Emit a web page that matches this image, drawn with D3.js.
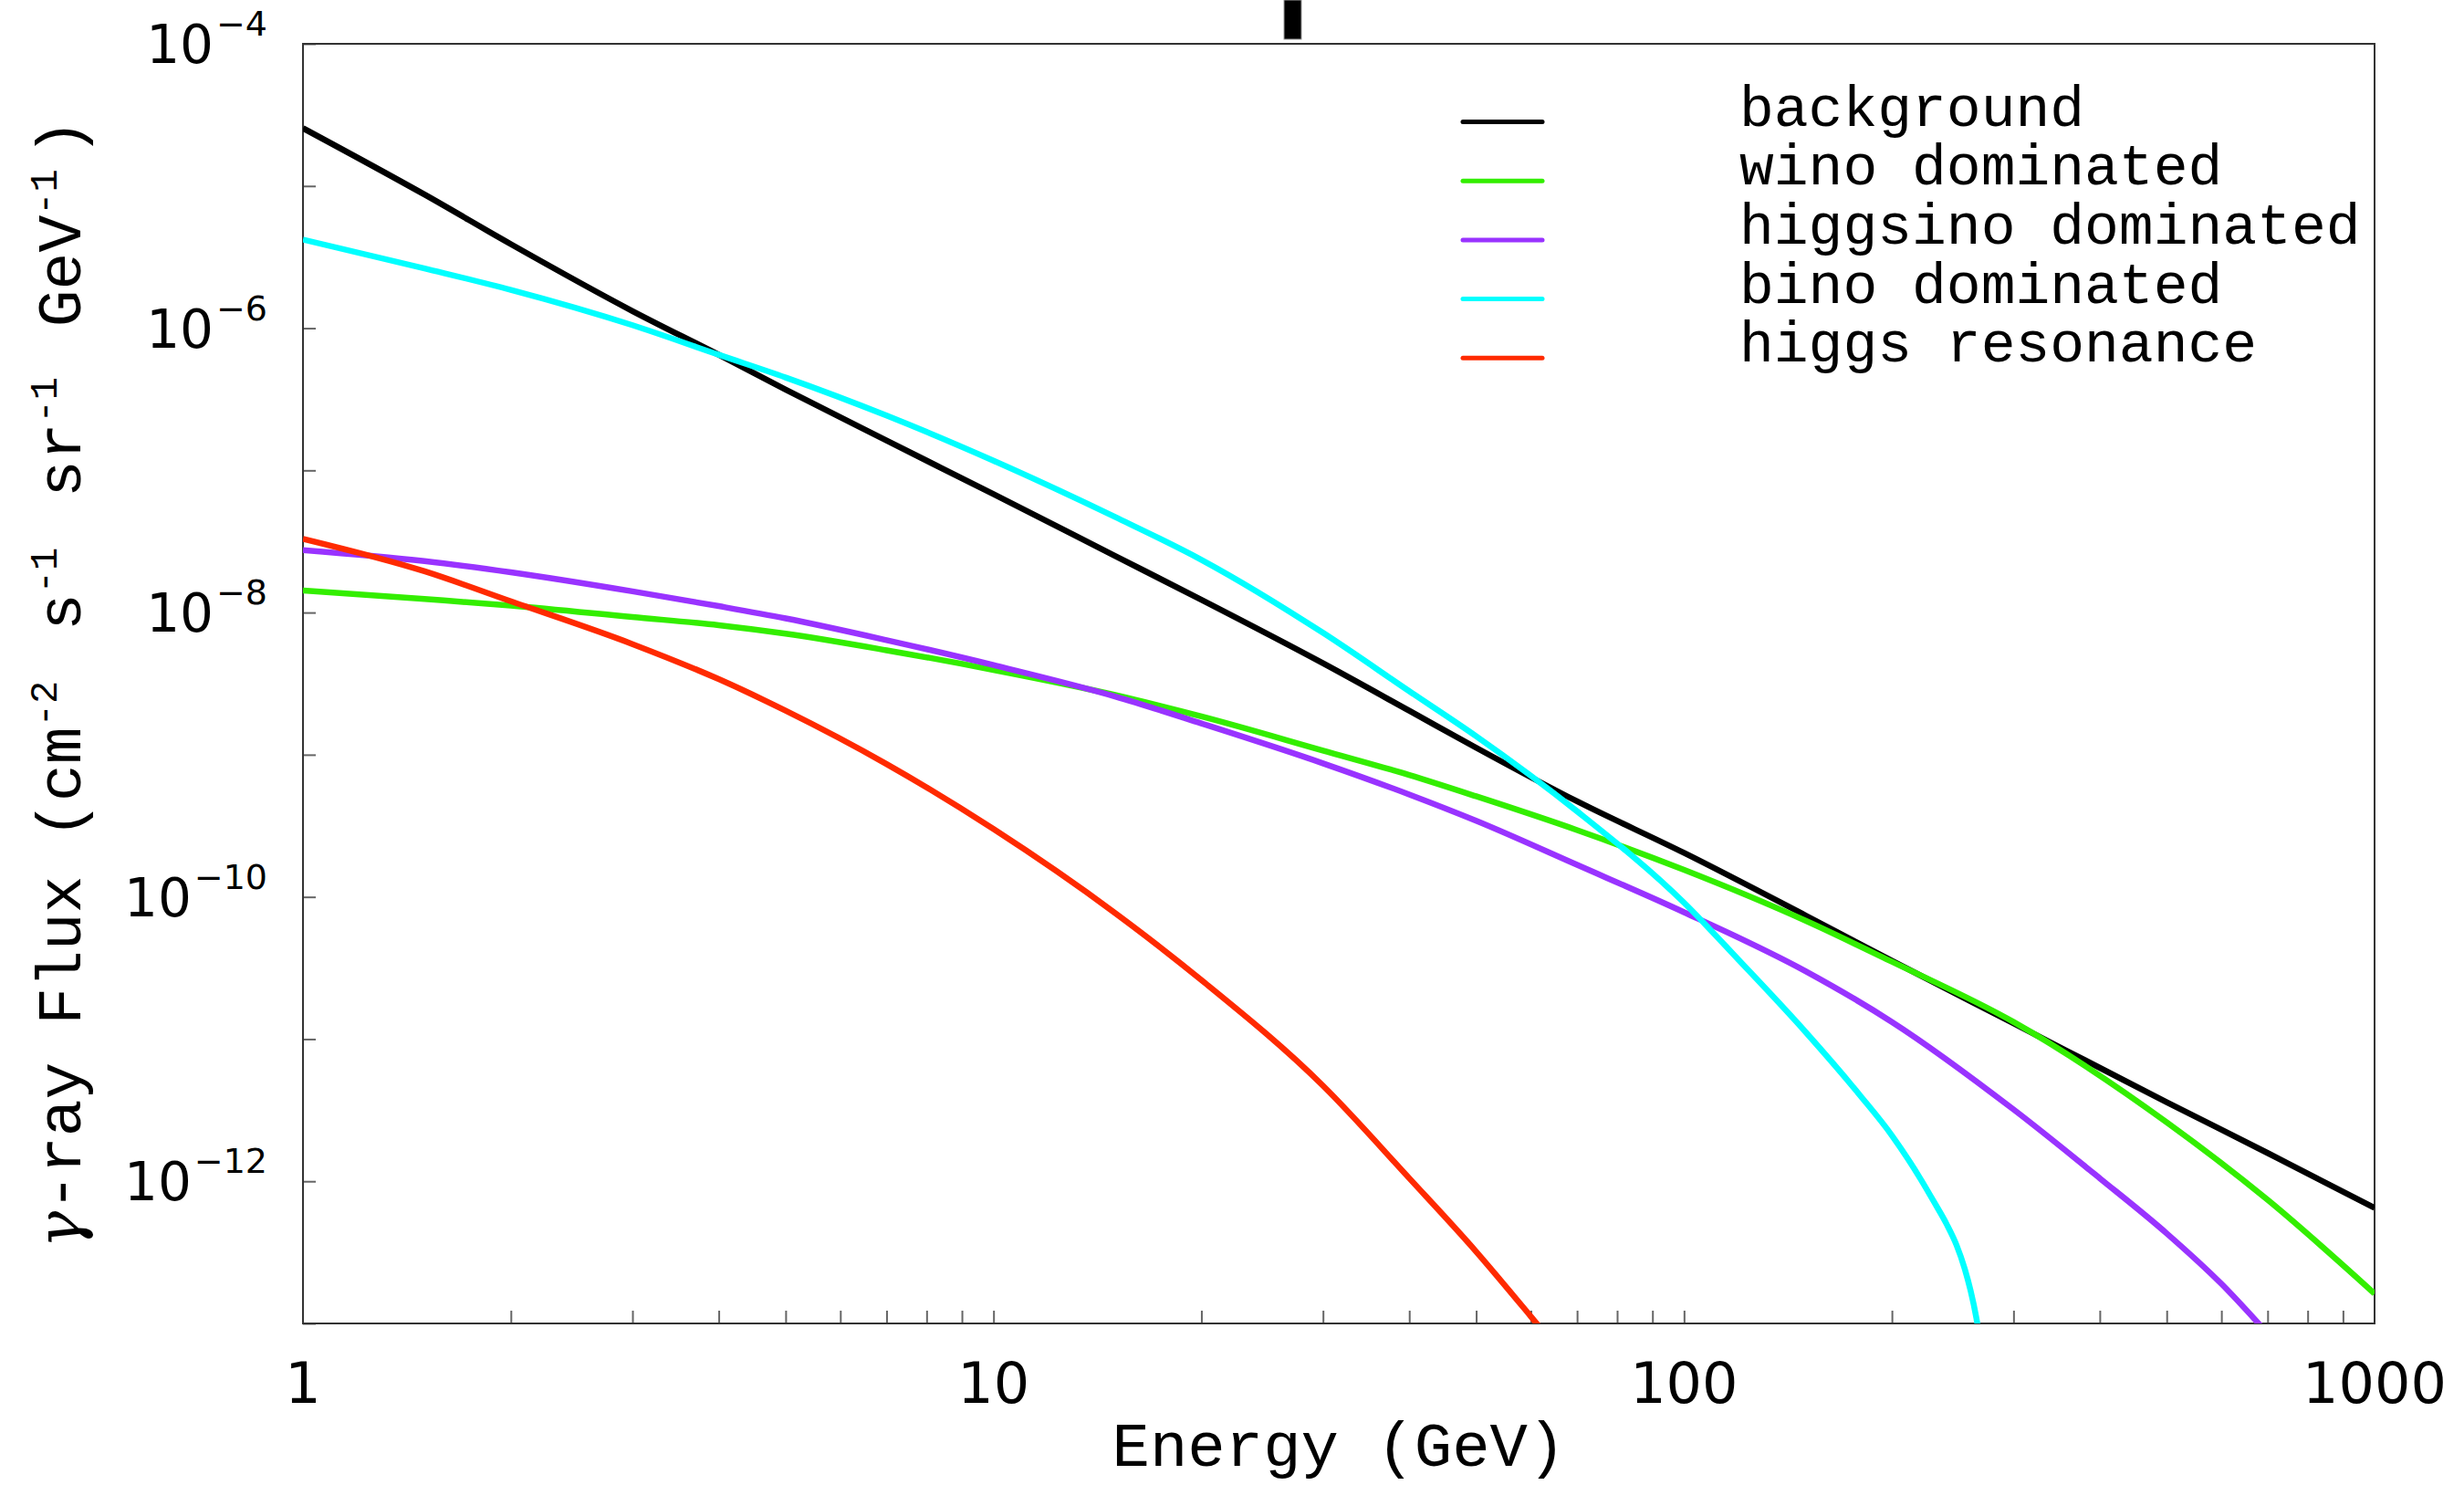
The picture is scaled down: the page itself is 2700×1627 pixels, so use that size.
<!DOCTYPE html>
<html>
<head>
<meta charset="utf-8">
<script src="https://cdn.jsdelivr.net/npm/d3@7"></script>
<style>
  body { margin: 0; background: #fff; }
</style>
</head>
<body>
<div id="chart"></div>
<script>
// Data (energies in GeV, flux in cm^-2 s^-1 sr^-1 GeV^-1)
const energyBackground = [1, 1.5, 2, 3, 4, 5, 7, 10, 15, 20, 30, 40, 50, 70, 100, 150, 200, 300, 500, 700, 1000]
const fluxBackground = [2.55e-5, 8.7e-6, 3.9e-6, 1.32e-6, 6.5e-7, 3.7e-7, 1.62e-7, 6.8e-8, 2.5e-8, 1.23e-8, 4.4e-9, 2.04e-9, 1.12e-9, 4.7e-10, 2.04e-10, 7.4e-11, 3.55e-11, 1.29e-11, 3.6e-12, 1.58e-12, 6.5e-13]

const energyWino = [1, 1.5, 2, 3, 4, 5, 7, 10, 15, 20, 30, 40, 50, 70, 100, 150, 200, 300, 500, 700, 1000]
const fluxWino = [1.43e-8, 1.245e-8, 1.12e-8, 9.3e-9, 8.15e-9, 7.1e-9, 5.43e-9, 3.95e-9, 2.63e-9, 1.86e-9, 1.07e-9, 7.2e-10, 5.1e-10, 2.95e-10, 1.55e-10, 6.8e-11, 3.5e-11, 1.32e-11, 2.6e-12, 7.4e-13, 1.62e-13]

const energyHiggsino = [1, 1.5, 2, 3, 4, 5, 7, 10, 15, 20, 30, 40, 50, 70, 100, 150, 200, 300, 400, 500, 600, 700]
const fluxHiggsino = [2.75e-8, 2.3e-8, 1.92e-8, 1.41e-8, 1.11e-8, 9.1e-9, 6.4e-9, 4.27e-9, 2.57e-9, 1.66e-9, 8.7e-10, 5.25e-10, 3.43e-10, 1.68e-10, 7.8e-11, 3.0e-11, 1.32e-11, 3.2e-12, 1.05e-12, 4.3e-13, 1.9e-13, 8.5e-14]

const energyBino = [1, 1.5, 2, 3, 4, 5, 7, 10, 15, 20, 30, 40, 50, 70, 100, 120, 150, 180, 200, 220, 230, 240, 248, 255, 260, 265, 270]
const fluxBino = [4.2e-6, 2.63e-6, 1.86e-6, 1.05e-6, 6.5e-7, 4.5e-7, 2.43e-7, 1.17e-7, 4.7e-8, 2.35e-8, 7.2e-9, 2.8e-9, 1.35e-9, 4.0e-10, 9.1e-11, 3.6e-11, 1.12e-11, 4.0e-12, 2.1e-12, 1.04e-12, 7.2e-13, 5.0e-13, 3.57e-13, 2.42e-13, 1.7e-13, 1.1e-13, 6.3e-14]

const energyHiggs = [1, 1.5, 2, 3, 4, 5, 7, 10, 15, 20, 30, 40, 50, 60, 65]
const fluxHiggs = [3.3e-8, 1.95e-8, 1.2e-8, 6.0e-9, 3.4e-9, 2.04e-9, 8.6e-10, 3.0e-10, 7.7e-11, 2.6e-11, 4.7e-12, 1.05e-12, 3.2e-13, 1.12e-13, 7e-14]

const seriesNames = ['background', 'wino dominated', 'higgsino dominated', 'bino dominated', 'higgs resonance']
const seriesColors = ['#000000', '#33ee00', '#9933ff', '#00ffff', '#ff2a00']

const xTickLabels = [1, 10, 100, 1000]
const yTickExponents = [-4, -6, -8, -10, -12]

function draw() {
  let dimensions = {
    width: 2700,
    height: 1627,
    left: 332,
    right: 2602,
    top: 48,
    bottom: 1450
  }

  const series = [
    { energy: energyBackground, flux: fluxBackground },
    { energy: energyWino, flux: fluxWino },
    { energy: energyHiggsino, flux: fluxHiggsino },
    { energy: energyBino, flux: fluxBino },
    { energy: energyHiggs, flux: fluxHiggs }
  ].map((s, i) => ({
    name: seriesNames[i],
    color: seriesColors[i],
    points: s.energy.map((e, j) => [e, s.flux[j]])
  }))

  const svg = d3.select('#chart')
    .append('svg')
    .attr('width', dimensions.width)
    .attr('height', dimensions.height)

  // Scales
  const xScale = d3.scaleLog()
    .domain([1, 1000])
    .range([dimensions.left, dimensions.right])

  const yScale = d3.scaleLog()
    .domain([1e-13, 1e-4])
    .range([dimensions.bottom, dimensions.top])

  svg.append('clipPath')
    .attr('id', 'plot-clip')
    .append('rect')
    .attr('x', dimensions.left)
    .attr('y', dimensions.top)
    .attr('width', dimensions.right - dimensions.left)
    .attr('height', dimensions.bottom - dimensions.top)

  // Axes (ticks only, pointing inward)
  const yTicks = d3.range(-13, -3).map(p => Math.pow(10, p))
  const yAxis = d3.axisLeft(yScale)
    .tickValues(yTicks)
    .tickSize(-14)
    .tickFormat('')

  svg.append('g')
    .attr('transform', `translate(${dimensions.left}, 0)`)
    .call(yAxis)
    .call(g => g.select('.domain').remove())
    .call(g => g.selectAll('line').attr('stroke', '#666').attr('stroke-width', 2))

  const xAxis = d3.axisBottom(xScale)
    .tickValues(xScale.ticks().filter(d => d > 1 && d < 1000))
    .tickSize(-14)
    .tickFormat('')

  svg.append('g')
    .attr('transform', `translate(0, ${dimensions.bottom})`)
    .call(xAxis)
    .call(g => g.select('.domain').remove())
    .call(g => g.selectAll('line').attr('stroke', '#666').attr('stroke-width', 2))

  // Frame
  svg.append('rect')
    .attr('x', dimensions.left)
    .attr('y', dimensions.top)
    .attr('width', dimensions.right - dimensions.left)
    .attr('height', dimensions.bottom - dimensions.top)
    .attr('fill', 'none')
    .attr('stroke', '#333')
    .attr('stroke-width', 2)

  // Tick labels
  svg.append('g')
    .selectAll('text')
    .data(xTickLabels)
    .join('text')
    .attr('x', d => xScale(d))
    .attr('y', 1537)
    .attr('text-anchor', 'middle')
    .attr('font-family', 'DejaVu Sans')
    .attr('font-size', 62)
    .text(d => d)

  const yLabels = svg.append('g')
    .selectAll('text')
    .data(yTickExponents)
    .join('text')
    .attr('x', 293)
    .attr('y', d => yScale(Math.pow(10, d)) + 21)
    .attr('text-anchor', 'end')
    .attr('font-family', 'DejaVu Sans')
    .attr('font-size', 58)

  yLabels.append('tspan').text('10')
  yLabels.append('tspan')
    .attr('font-size', 38)
    .attr('dy', -30)
    .attr('dx', 3)
    .text(d => '\u2212' + Math.abs(d))

  // Curves
  const line = d3.line()
    .x(d => xScale(d[0]))
    .y(d => yScale(d[1]))
    .curve(d3.curveMonotoneX)

  svg.append('g')
    .attr('clip-path', 'url(#plot-clip)')
    .selectAll('path')
    .data(series)
    .join('path')
    .attr('d', d => line(d.points))
    .attr('fill', 'none')
    .attr('stroke', d => d.color)
    .attr('stroke-width', 6.5)
    .attr('stroke-linejoin', 'round')

  // Legend
  const legend = svg.append('g')
    .selectAll('g')
    .data(series)
    .join('g')
    .attr('transform', (d, i) => `translate(0, ${133.5 + i * 64.7})`)

  legend.append('line')
    .attr('x1', 1603)
    .attr('x2', 1690)
    .attr('stroke', d => d.color)
    .attr('stroke-width', 5)
    .attr('stroke-linecap', 'round')

  legend.append('text')
    .attr('x', 1906)
    .attr('y', 4)
    .attr('font-family', 'Liberation Mono')
    .attr('font-size', 63)
    .text(d => d.name)

  // Axis titles
  svg.append('text')
    .attr('x', (dimensions.left + dimensions.right) / 2)
    .attr('y', 1606)
    .attr('text-anchor', 'middle')
    .attr('font-family', 'Liberation Mono')
    .attr('font-size', 69)
    .text('Energy (GeV)')

  const yTitle = svg.append('text')
    .attr('transform', `translate(88, ${(dimensions.top + dimensions.bottom) / 2}) rotate(-90)`)
    .attr('text-anchor', 'middle')
    .attr('font-family', 'Liberation Mono')
    .attr('font-size', 68)

  yTitle.append('tspan')
    .attr('font-family', 'DejaVu Serif')
    .attr('font-style', 'italic')
    .text('\u03b3')

  // [text, superscript?]
  const titleParts = [
    ['-ray Flux (cm', false], ['-2', true], [' s', false], ['-1', true],
    [' sr', false], ['-1', true], [' GeV', false], ['-1', true], [')', false]
  ]
  titleParts.forEach(([t, sup], i) => {
    const prevSup = i > 0 && titleParts[i - 1][1]
    yTitle.append('tspan')
      .attr('font-size', sup ? 42 : 68)
      .attr('dy', sup ? -26 : (prevSup ? 26 : 0))
      .attr('dx', prevSup ? 14 : 0)
      .style('white-space', 'pre')
      .text(t)
  })

  // Stray mark above the frame
  svg.append('rect')
    .attr('x', 1407)
    .attr('y', 0)
    .attr('width', 19)
    .attr('height', 43)
    .attr('fill', '#000')
    .attr('stroke', '#999')
    .attr('stroke-width', 1)
}

draw()
</script>
</body>
</html>
